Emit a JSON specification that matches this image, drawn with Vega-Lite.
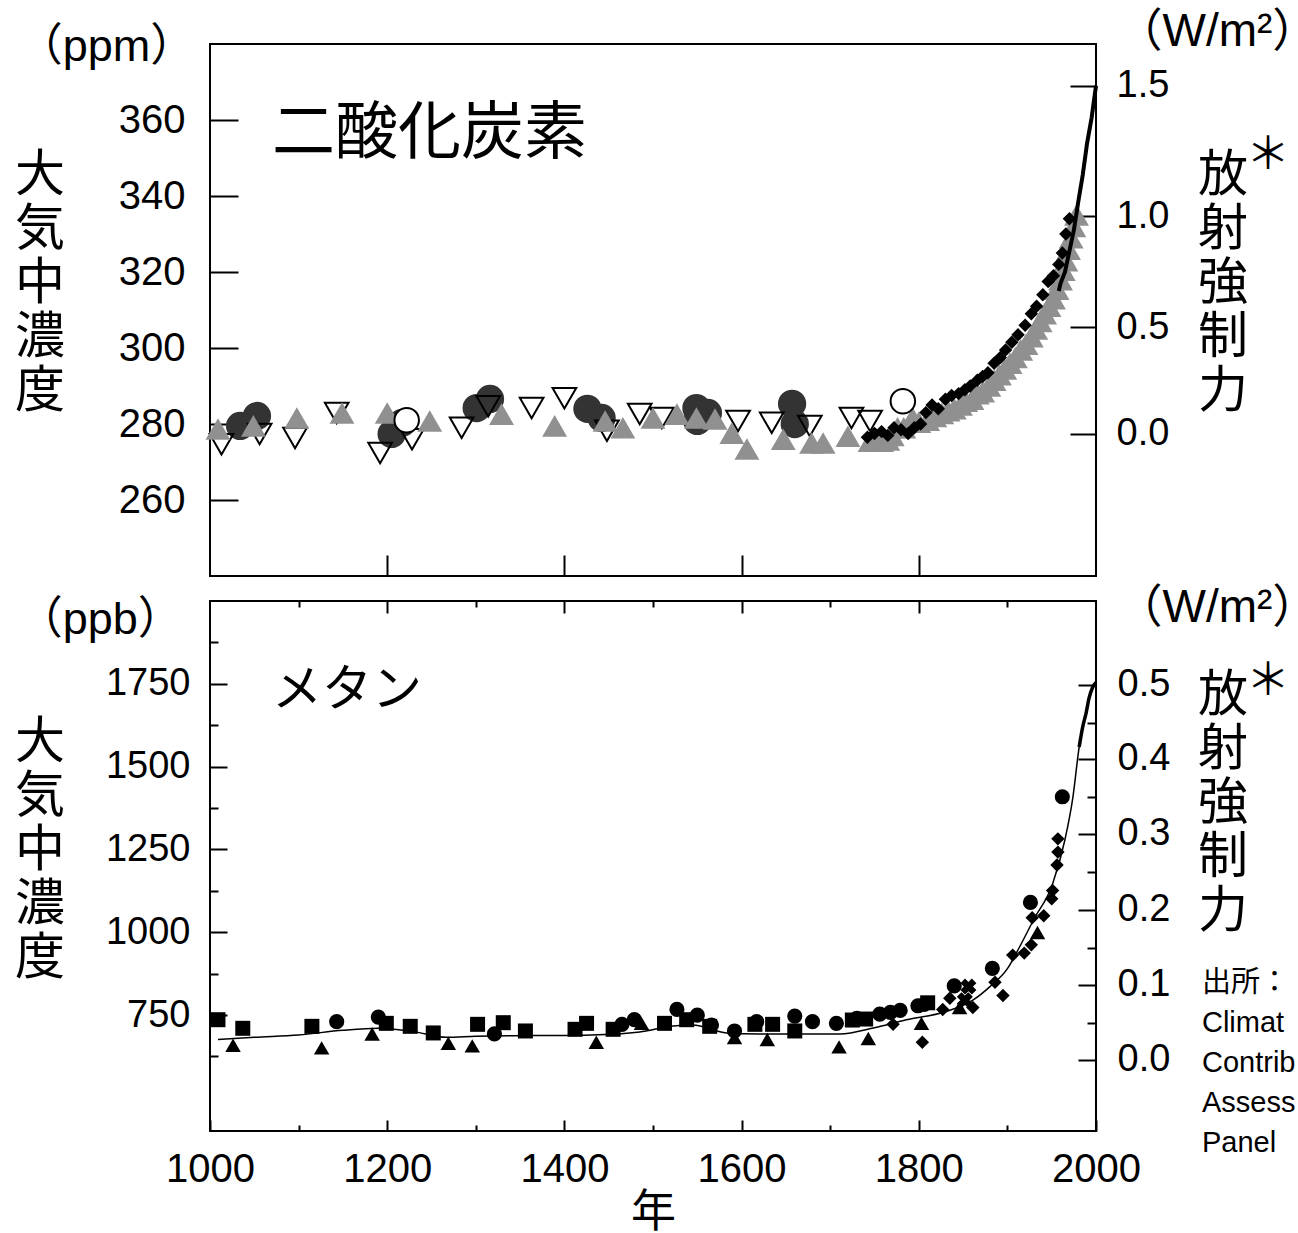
{
  "$schema": "https://vega.github.io/schema/vega-lite/v6.json",
  "padding": {"left": 13, "top": 7, "right": 0, "bottom": 0},
  "background": "white",
  "spacing": 25,
  "bounds": "flush",
  "config": {
    "view": {"stroke": "black", "strokeWidth": 2},
    "axis": {"grid": false, "domain": false, "title": null, "labelColor": "black", "tickColor": "black", "tickWidth": 2, "labelFont": "Liberation Sans, Arial", "labelFlush": false, "labelOverlap": false},
    "text": {"color": "black"}
  },
  "datasets": {
    "co2_dc": [
      {"year": 1034, "ppm": 279.5}, {"year": 1053, "ppm": 282.1}, {"year": 1205, "ppm": 277.4}, {"year": 1217, "ppm": 280.3},
      {"year": 1301, "ppm": 284.2}, {"year": 1316, "ppm": 286.6}, {"year": 1426, "ppm": 284.0}, {"year": 1442, "ppm": 281.6},
      {"year": 1549, "ppm": 284.2}, {"year": 1562, "ppm": 282.9}, {"year": 1550, "ppm": 280.8}, {"year": 1657, "ppm": 285.3},
      {"year": 1660, "ppm": 280.0}
    ],
    "co2_od": [
      {"year": 1013, "ppm": 274.7}, {"year": 1056, "ppm": 277.4}, {"year": 1096, "ppm": 276.3}, {"year": 1143, "ppm": 282.9},
      {"year": 1192, "ppm": 272.4}, {"year": 1228, "ppm": 276.0}, {"year": 1284, "ppm": 279.0}, {"year": 1314, "ppm": 284.7},
      {"year": 1363, "ppm": 284.2}, {"year": 1400, "ppm": 286.8}, {"year": 1448, "ppm": 278.2}, {"year": 1485, "ppm": 282.6},
      {"year": 1510, "ppm": 281.6}, {"year": 1596, "ppm": 280.8}, {"year": 1634, "ppm": 280.3}, {"year": 1677, "ppm": 279.5},
      {"year": 1724, "ppm": 281.6}, {"year": 1745, "ppm": 280.8}
    ],
    "co2_gt": [
      {"year": 1009, "ppm": 278.7}, {"year": 1049, "ppm": 279.5}, {"year": 1098, "ppm": 281.6}, {"year": 1149, "ppm": 282.9},
      {"year": 1200, "ppm": 282.9}, {"year": 1248, "ppm": 280.8}, {"year": 1329, "ppm": 282.6}, {"year": 1389, "ppm": 279.5},
      {"year": 1446, "ppm": 280.8}, {"year": 1466, "ppm": 279.0}, {"year": 1500, "ppm": 281.6}, {"year": 1527, "ppm": 282.6},
      {"year": 1549, "ppm": 281.6}, {"year": 1570, "ppm": 281.3}, {"year": 1589, "ppm": 277.6}, {"year": 1606, "ppm": 273.4},
      {"year": 1647, "ppm": 276.0}, {"year": 1679, "ppm": 275.0}, {"year": 1692, "ppm": 275.0}, {"year": 1720, "ppm": 276.8},
      {"year": 1745, "ppm": 275.5}, {"year": 1752, "ppm": 276.0}, {"year": 1758, "ppm": 275.5}, {"year": 1765, "ppm": 275.8},
      {"year": 1770, "ppm": 277.0}, {"year": 1776, "ppm": 279.0}, {"year": 1783, "ppm": 279.0}, {"year": 1793, "ppm": 281.6},
      {"year": 1800, "ppm": 280.5}, {"year": 1810, "ppm": 281.0}, {"year": 1818, "ppm": 282.0}, {"year": 1826, "ppm": 282.8},
      {"year": 1833, "ppm": 283.5}, {"year": 1840, "ppm": 284.0}, {"year": 1847, "ppm": 285.0}, {"year": 1853, "ppm": 286.0},
      {"year": 1860, "ppm": 286.5}, {"year": 1866, "ppm": 288.0}, {"year": 1872, "ppm": 288.5}, {"year": 1879, "ppm": 290.0},
      {"year": 1885, "ppm": 291.5}, {"year": 1891, "ppm": 293.0}, {"year": 1897, "ppm": 294.5}, {"year": 1903, "ppm": 296.0},
      {"year": 1909, "ppm": 297.5}, {"year": 1915, "ppm": 299.5}, {"year": 1921, "ppm": 301.0}, {"year": 1927, "ppm": 303.0},
      {"year": 1932, "ppm": 305.0}, {"year": 1937, "ppm": 307.0}, {"year": 1942, "ppm": 309.0}, {"year": 1947, "ppm": 311.0},
      {"year": 1952, "ppm": 313.0}, {"year": 1956, "ppm": 315.5}, {"year": 1960, "ppm": 318.0}, {"year": 1963, "ppm": 320.5},
      {"year": 1966, "ppm": 323.0}, {"year": 1969, "ppm": 326.0}, {"year": 1972, "ppm": 329.0}, {"year": 1975, "ppm": 332.0},
      {"year": 1978, "ppm": 335.0}
    ],
    "co2_dm": [
      {"year": 1742, "ppm": 276.5}, {"year": 1750, "ppm": 277.5}, {"year": 1758, "ppm": 278.0}, {"year": 1765, "ppm": 277.0},
      {"year": 1772, "ppm": 279.0}, {"year": 1780, "ppm": 278.5}, {"year": 1788, "ppm": 277.5}, {"year": 1795, "ppm": 279.0},
      {"year": 1802, "ppm": 280.0}, {"year": 1808, "ppm": 283.0}, {"year": 1815, "ppm": 285.0}, {"year": 1822, "ppm": 284.0},
      {"year": 1830, "ppm": 286.5}, {"year": 1837, "ppm": 287.5}, {"year": 1845, "ppm": 288.0}, {"year": 1852, "ppm": 289.0},
      {"year": 1858, "ppm": 290.0}, {"year": 1866, "ppm": 291.5}, {"year": 1872, "ppm": 292.5}, {"year": 1878, "ppm": 293.5},
      {"year": 1885, "ppm": 296.0}, {"year": 1892, "ppm": 297.5}, {"year": 1898, "ppm": 299.5}, {"year": 1905, "ppm": 301.5},
      {"year": 1912, "ppm": 303.5}, {"year": 1920, "ppm": 306.0}, {"year": 1927, "ppm": 309.0}, {"year": 1933, "ppm": 311.0},
      {"year": 1940, "ppm": 314.0}, {"year": 1946, "ppm": 317.5}, {"year": 1952, "ppm": 319.0}, {"year": 1958, "ppm": 322.0},
      {"year": 1962, "ppm": 325.0}, {"year": 1966, "ppm": 330.0}, {"year": 1970, "ppm": 334.0}
    ],
    "co2_oc": [
      {"year": 1222, "ppm": 281.0}, {"year": 1782, "ppm": 286.0}
    ],
    "co2_ml": [
      {"year": 1958, "ppm": 315.0}, {"year": 1960, "ppm": 317.0}, {"year": 1965, "ppm": 320.0}, {"year": 1970, "ppm": 325.5},
      {"year": 1975, "ppm": 331.0}, {"year": 1980, "ppm": 338.5}, {"year": 1985, "ppm": 345.5}, {"year": 1990, "ppm": 354.0},
      {"year": 1995, "ppm": 360.5}, {"year": 2000, "ppm": 369.0}
    ],
    "ch4_sq": [
      {"year": 1009, "ppb": 736}, {"year": 1037, "ppb": 710}, {"year": 1115, "ppb": 716}, {"year": 1199, "ppb": 725},
      {"year": 1226, "ppb": 716}, {"year": 1252, "ppb": 696}, {"year": 1302, "ppb": 722}, {"year": 1331, "ppb": 727},
      {"year": 1356, "ppb": 702}, {"year": 1412, "ppb": 707}, {"year": 1425, "ppb": 725}, {"year": 1455, "ppb": 707},
      {"year": 1513, "ppb": 725}, {"year": 1538, "ppb": 736}, {"year": 1564, "ppb": 716}, {"year": 1615, "ppb": 722},
      {"year": 1635, "ppb": 722}, {"year": 1660, "ppb": 702}, {"year": 1725, "ppb": 735}, {"year": 1740, "ppb": 738},
      {"year": 1810, "ppb": 787}
    ],
    "ch4_ci": [
      {"year": 1143, "ppb": 730}, {"year": 1190, "ppb": 744}, {"year": 1321, "ppb": 693}, {"year": 1465, "ppb": 722},
      {"year": 1479, "ppb": 736}, {"year": 1527, "ppb": 767}, {"year": 1550, "ppb": 750}, {"year": 1566, "ppb": 720},
      {"year": 1592, "ppb": 702}, {"year": 1617, "ppb": 730}, {"year": 1660, "ppb": 747}, {"year": 1680, "ppb": 730},
      {"year": 1707, "ppb": 725}, {"year": 1730, "ppb": 740}, {"year": 1756, "ppb": 753}, {"year": 1768, "ppb": 758},
      {"year": 1779, "ppb": 764}, {"year": 1799, "ppb": 778}, {"year": 1806, "ppb": 782}, {"year": 1840, "ppb": 838},
      {"year": 1883, "ppb": 891}, {"year": 1926, "ppb": 1090}, {"year": 1962, "ppb": 1409}
    ],
    "ch4_tr": [
      {"year": 1026, "ppb": 659}, {"year": 1126, "ppb": 651}, {"year": 1183, "ppb": 693}, {"year": 1269, "ppb": 665},
      {"year": 1296, "ppb": 657}, {"year": 1436, "ppb": 668}, {"year": 1487, "ppb": 725}, {"year": 1592, "ppb": 682},
      {"year": 1629, "ppb": 676}, {"year": 1710, "ppb": 654}, {"year": 1743, "ppb": 679}, {"year": 1803, "ppb": 725},
      {"year": 1846, "ppb": 773}, {"year": 1934, "ppb": 999}
    ],
    "ch4_dm": [
      {"year": 1771, "ppb": 722}, {"year": 1804, "ppb": 668}, {"year": 1827, "ppb": 767}, {"year": 1835, "ppb": 801},
      {"year": 1861, "ppb": 773}, {"year": 1886, "ppb": 849}, {"year": 1895, "ppb": 809}, {"year": 1906, "ppb": 931},
      {"year": 1919, "ppb": 937}, {"year": 1927, "ppb": 962}, {"year": 1928, "ppb": 1044}, {"year": 1941, "ppb": 1050},
      {"year": 1950, "ppb": 1101}, {"year": 1951, "ppb": 1126}, {"year": 1956, "ppb": 1203}, {"year": 1957, "ppb": 1242},
      {"year": 1957, "ppb": 1282}
    ],
    "ch4_x": [
      {"year": 1852, "ppb": 795}, {"year": 1856, "ppb": 836}
    ],
    "ch4_line": [
      {"year": 1009, "ppb": 676}, {"year": 1050, "ppb": 683}, {"year": 1100, "ppb": 690}, {"year": 1150, "ppb": 704},
      {"year": 1190, "ppb": 710}, {"year": 1230, "ppb": 700}, {"year": 1267, "ppb": 683}, {"year": 1300, "ppb": 686},
      {"year": 1364, "ppb": 688}, {"year": 1430, "ppb": 690}, {"year": 1485, "ppb": 699}, {"year": 1520, "ppb": 716},
      {"year": 1545, "ppb": 720}, {"year": 1583, "ppb": 696}, {"year": 1620, "ppb": 693}, {"year": 1711, "ppb": 693},
      {"year": 1750, "ppb": 712}, {"year": 1786, "ppb": 736}, {"year": 1830, "ppb": 760}, {"year": 1861, "ppb": 795},
      {"year": 1880, "ppb": 835}, {"year": 1900, "ppb": 890}, {"year": 1914, "ppb": 957}, {"year": 1930, "ppb": 1040},
      {"year": 1951, "ppb": 1146}, {"year": 1965, "ppb": 1280}, {"year": 1974, "ppb": 1409}, {"year": 1981, "ppb": 1559},
      {"year": 1989, "ppb": 1664}, {"year": 1995, "ppb": 1730}, {"year": 2000, "ppb": 1754}
    ],
    "ch4_recent": [
      {"year": 1981, "ppb": 1559}, {"year": 1985, "ppb": 1620}, {"year": 1989, "ppb": 1664}, {"year": 1992, "ppb": 1705},
      {"year": 1996, "ppb": 1738}, {"year": 2000, "ppb": 1754}
    ]
  },
  "vconcat": [
    {
      "width": 886,
      "height": 532,
      "layer": [
        {
          "layer": [
            {
              "data": {"name": "co2_dc"},
              "mark": {"type": "point", "shape": "circle", "filled": true, "color": "#333333", "opacity": 1, "size": 800},
              "encoding": {
                "x": {"field": "year", "type": "quantitative", "scale": {"domain": [1000, 2000]},
                  "axis": {"values": [1200, 1400, 1600, 1800], "tickSize": -21, "labels": false}},
                "y": {"field": "ppm", "type": "quantitative", "scale": {"domain": [240, 380]},
                  "axis": {"values": [260, 280, 300, 320, 340, 360], "tickSize": -28, "labelPadding": 53, "labelFontSize": 40}}
              }
            },
            {
              "data": {"name": "co2_od"},
              "mark": {"type": "point", "shape": "triangle-down", "filled": false, "stroke": "black", "strokeWidth": 2, "opacity": 1, "size": 560},
              "encoding": {"x": {"field": "year", "type": "quantitative"}, "y": {"field": "ppm", "type": "quantitative"}}
            },
            {
              "data": {"name": "co2_gt"},
              "mark": {"type": "point", "shape": "triangle-up", "filled": true, "color": "#909090", "opacity": 1, "size": 620},
              "encoding": {"x": {"field": "year", "type": "quantitative"}, "y": {"field": "ppm", "type": "quantitative"}}
            },
            {
              "data": {"name": "co2_dm"},
              "mark": {"type": "point", "shape": "diamond", "filled": true, "color": "black", "opacity": 1, "size": 180},
              "encoding": {"x": {"field": "year", "type": "quantitative"}, "y": {"field": "ppm", "type": "quantitative"}}
            },
            {
              "data": {"name": "co2_oc"},
              "mark": {"type": "point", "shape": "circle", "filled": true, "fill": "white", "stroke": "black", "strokeWidth": 2, "opacity": 1, "size": 600},
              "encoding": {"x": {"field": "year", "type": "quantitative"}, "y": {"field": "ppm", "type": "quantitative"}}
            },
            {
              "data": {"name": "co2_ml"},
              "mark": {"type": "line", "color": "black", "strokeWidth": 4},
              "encoding": {"x": {"field": "year", "type": "quantitative"}, "y": {"field": "ppm", "type": "quantitative"}}
            },
            {
              "data": {"values": [{}]},
              "mark": {"type": "text", "text": "二酸化炭素", "font": "Noto Sans CJK JP", "fontSize": 63, "align": "left", "baseline": "alphabetic"},
              "encoding": {"x": {"datum": 1070}, "y": {"datum": 351.4}}
            },
            {
              "data": {"values": [{}]},
              "mark": {"type": "text", "text": "（ppm）", "font": "Liberation Sans, Noto Sans CJK JP", "fontSize": 45, "align": "left", "baseline": "alphabetic"},
              "encoding": {"x": {"datum": 783}, "y": {"datum": 375.5}}
            },
            {
              "data": {"values": [{}]},
              "mark": {"type": "text", "text": ["大", "気", "中", "濃", "度"], "font": "Noto Sans CJK JP", "fontSize": 50, "lineHeight": 54, "align": "center", "baseline": "alphabetic"},
              "encoding": {"x": {"datum": 808}, "y": {"datum": 341.3}}
            },
            {
              "data": {"values": [{}]},
              "mark": {"type": "text", "text": ["放", "射", "強", "制", "力"], "font": "Noto Sans CJK JP", "fontSize": 50, "lineHeight": 54, "align": "center", "baseline": "alphabetic"},
              "encoding": {"x": {"datum": 2143.3}, "y": {"datum": 341.3}}
            },
            {
              "data": {"values": [{}]},
              "mark": {"type": "text", "text": "＊", "font": "Noto Sans CJK JP", "fontSize": 44, "align": "center", "baseline": "alphabetic"},
              "encoding": {"x": {"datum": 2194}, "y": {"datum": 347.1}}
            },
            {
              "data": {"values": [{}]},
              "mark": {"type": "text", "text": "（W/m²）", "font": "Liberation Sans, Noto Sans CJK JP", "fontSize": 46, "align": "center", "baseline": "alphabetic"},
              "encoding": {"x": {"datum": 2137}, "y": {"datum": 379.5}}
            }
          ]
        },
        {
          "data": {"name": "co2_ml"},
          "mark": {"type": "point", "opacity": 0},
          "encoding": {
            "y": {"field": "ppm", "type": "quantitative", "scale": {"domain": [240, 380]},
              "axis": {"orient": "right", "values": [277.4, 305.5, 334.7, 369.0], "tickSize": -26, "labelPadding": 46, "labelFontSize": 38,
                "labelExpr": "datum.value < 290 ? '0.0' : datum.value < 320 ? '0.5' : datum.value < 350 ? '1.0' : '1.5'"}}
          }
        }
      ],
      "resolve": {"scale": {"y": "independent"}, "axis": {"y": "independent"}}
    },
    {
      "width": 886,
      "height": 530,
      "layer": [
        {
          "layer": [
            {
              "data": {"name": "ch4_line"},
              "mark": {"type": "line", "color": "black", "strokeWidth": 1.5, "interpolate": "monotone"},
              "encoding": {
                "x": {"field": "year", "type": "quantitative", "scale": {"domain": [1000, 2000]},
                  "axis": {"values": [1000, 1100, 1200, 1300, 1400, 1500, 1600, 1700, 1800, 1900, 2000],
                    "tickSize": {"condition": {"test": "datum.value % 200 == 0", "value": -11}, "value": -6},
                    "labelExpr": "datum.value % 200 == 0 ? '' + datum.value : ''", "labelPadding": 29, "labelFontSize": 40,
                    "title": "年", "titleFont": "Noto Sans CJK JP", "titleFontSize": 45, "titleFontWeight": "normal",
                    "titleBaseline": "alphabetic", "titleY": 95}},
                "y": {"field": "ppb", "type": "quantitative", "scale": {"domain": [500, 2000]},
                  "axis": {"values": [625, 750, 875, 1000, 1125, 1250, 1375, 1500, 1625, 1750, 1875],
                    "tickSize": {"condition": {"test": "datum.value % 250 == 0", "value": -17}, "value": -8},
                    "labelExpr": "datum.value % 250 == 0 ? '' + datum.value : ''", "labelPadding": 37, "labelFontSize": 38}}
              }
            },
            {
              "data": {"name": "ch4_recent"},
              "mark": {"type": "line", "color": "black", "strokeWidth": 3.5, "interpolate": "monotone"},
              "encoding": {"x": {"field": "year", "type": "quantitative"}, "y": {"field": "ppb", "type": "quantitative"}}
            },
            {
              "data": {"name": "ch4_sq"},
              "mark": {"type": "point", "shape": "square", "filled": true, "color": "black", "opacity": 1, "size": 225},
              "encoding": {"x": {"field": "year", "type": "quantitative"}, "y": {"field": "ppb", "type": "quantitative"}}
            },
            {
              "data": {"name": "ch4_ci"},
              "mark": {"type": "point", "shape": "circle", "filled": true, "color": "black", "opacity": 1, "size": 230},
              "encoding": {"x": {"field": "year", "type": "quantitative"}, "y": {"field": "ppb", "type": "quantitative"}}
            },
            {
              "data": {"name": "ch4_tr"},
              "mark": {"type": "point", "shape": "triangle-up", "filled": true, "color": "black", "opacity": 1, "size": 240},
              "encoding": {"x": {"field": "year", "type": "quantitative"}, "y": {"field": "ppb", "type": "quantitative"}}
            },
            {
              "data": {"name": "ch4_dm"},
              "mark": {"type": "point", "shape": "diamond", "filled": true, "color": "black", "opacity": 1, "size": 180},
              "encoding": {"x": {"field": "year", "type": "quantitative"}, "y": {"field": "ppb", "type": "quantitative"}}
            },
            {
              "data": {"name": "ch4_x"},
              "mark": {"type": "point", "shape": "cross", "angle": 45, "filled": true, "color": "black", "opacity": 1, "size": 260},
              "encoding": {"x": {"field": "year", "type": "quantitative"}, "y": {"field": "ppb", "type": "quantitative"}}
            },
            {
              "data": {"values": [{}]},
              "mark": {"type": "text", "text": "メタン", "font": "Noto Sans CJK JP", "fontSize": 50, "align": "left", "baseline": "alphabetic"},
              "encoding": {"x": {"datum": 1070}, "y": {"datum": 1683}}
            },
            {
              "data": {"values": [{}]},
              "mark": {"type": "text", "text": "（ppb）", "font": "Liberation Sans, Noto Sans CJK JP", "fontSize": 45, "align": "left", "baseline": "alphabetic"},
              "encoding": {"x": {"datum": 783}, "y": {"datum": 1901}}
            },
            {
              "data": {"values": [{}]},
              "mark": {"type": "text", "text": ["大", "気", "中", "濃", "度"], "font": "Noto Sans CJK JP", "fontSize": 50, "lineHeight": 54, "align": "center", "baseline": "alphabetic"},
              "encoding": {"x": {"datum": 808}, "y": {"datum": 1527}}
            },
            {
              "data": {"values": [{}]},
              "mark": {"type": "text", "text": ["放", "射", "強", "制", "力"], "font": "Noto Sans CJK JP", "fontSize": 50, "lineHeight": 54, "align": "center", "baseline": "alphabetic"},
              "encoding": {"x": {"datum": 2143.3}, "y": {"datum": 1669}}
            },
            {
              "data": {"values": [{}]},
              "mark": {"type": "text", "text": "＊", "font": "Noto Sans CJK JP", "fontSize": 44, "align": "center", "baseline": "alphabetic"},
              "encoding": {"x": {"datum": 2194}, "y": {"datum": 1717}}
            },
            {
              "data": {"values": [{}]},
              "mark": {"type": "text", "text": "（W/m²）", "font": "Liberation Sans, Noto Sans CJK JP", "fontSize": 46, "align": "center", "baseline": "alphabetic"},
              "encoding": {"x": {"datum": 2137}, "y": {"datum": 1937.7}}
            },
            {
              "data": {"values": [{}]},
              "mark": {"type": "text", "text": ["出所：", "Climate Change 2001", "Contribution of Working Group I", "Assessment Report of the Intergovernmental", "Panel on Climate Change"], "font": "Liberation Sans, Noto Sans CJK JP", "fontSize": 29, "lineHeight": 40, "align": "left", "baseline": "alphabetic", "limit": 96, "ellipsis": "\u200b"},
              "encoding": {"x": {"datum": 2119.6}, "y": {"datum": 819.8}}
            }
          ]
        },
        {
          "data": {"name": "ch4_line"},
          "mark": {"type": "point", "opacity": 0},
          "encoding": {
            "x": {"field": "year", "type": "quantitative", "scale": {"domain": [1000, 2000]},
              "axis": {"orient": "top", "values": [1100, 1200, 1300, 1400, 1500, 1600, 1700, 1800, 1900],
                "tickSize": {"condition": {"test": "datum.value % 200 == 0", "value": -12}, "value": -6}, "labels": false}},
            "y": {"field": "ppb", "type": "quantitative", "scale": {"domain": [500, 2000]},
              "axis": {"orient": "right", "values": [702, 807, 914, 1019, 1126, 1234, 1341, 1446, 1554, 1656, 1763],
                "tickSize": {"condition": {"test": "indexof([702, 914, 1126, 1341, 1554, 1763], datum.value) >= 0", "value": -18}, "value": -9},
                "labelExpr": "datum.value == 702 ? '0.0' : datum.value == 914 ? '0.1' : datum.value == 1126 ? '0.2' : datum.value == 1341 ? '0.3' : datum.value == 1554 ? '0.4' : datum.value == 1763 ? '0.5' : ''",
                "labelPadding": 39, "labelFontSize": 38}}
          }
        }
      ],
      "resolve": {"scale": {"x": "independent", "y": "independent"}, "axis": {"x": "independent", "y": "independent"}}
    }
  ]
}
